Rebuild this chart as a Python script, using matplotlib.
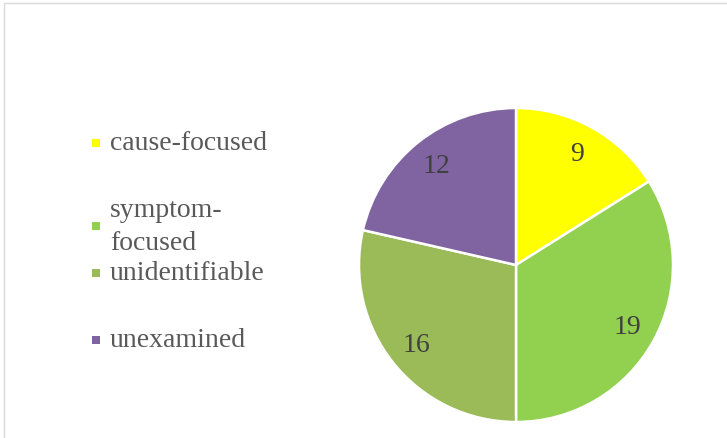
import matplotlib.pyplot as plt
from matplotlib.patches import Rectangle

plt.rcParams["font.family"] = ["Liberation Serif", "DejaVu Serif"]

categories = ["cause-focused", "symptom-\nfocused", "unidentifiable", "unexamined"]
counts = [9, 19, 16, 12]
colors = ["#FFFF00", "#92D050", "#9BBB59", "#8064A2"]

total = sum(counts)

fig = plt.figure(figsize=(7.27, 4.39), dpi=100)

# chart-area frame
fig.patches.append(Rectangle((4 / 727, -0.05), 1.2, 1.05 - 4 / 439,
                             transform=fig.transFigure, fill=False,
                             edgecolor="#D9D9D9", lw=1.0))

ax = fig.add_axes([359 / 727, 16 / 439, 314 / 727, 314 / 439])
wedges, texts, autotexts = ax.pie(
    counts, colors=colors, startangle=90, counterclock=False,
    autopct=lambda p: f"{p * total / 100:.0f}", pctdistance=0.81,
    wedgeprops=dict(edgecolor="white", linewidth=1.8),
    textprops=dict(fontsize=20, color="#404040"))
ax.set_xlim(-1, 1)
ax.set_ylim(-1, 1)
ax.set_aspect("equal")

# legend drawn by hand to keep the uneven row spacing
legend_y = [144, 227, 274, 341]
for wedge, label, y in zip(wedges, categories, legend_y):
    fy = 1 - y / 439
    fig.patches.append(Rectangle((92 / 727, fy - 4 / 439), 8 / 727, 8 / 439,
                                 transform=fig.transFigure,
                                 facecolor=wedge.get_facecolor(), lw=0))
    fig.text(110 / 727, fy, label, fontsize=20, color="#595959",
             va="center", ha="left", linespacing=1.45)

fig.savefig("out.png", dpi=100)
